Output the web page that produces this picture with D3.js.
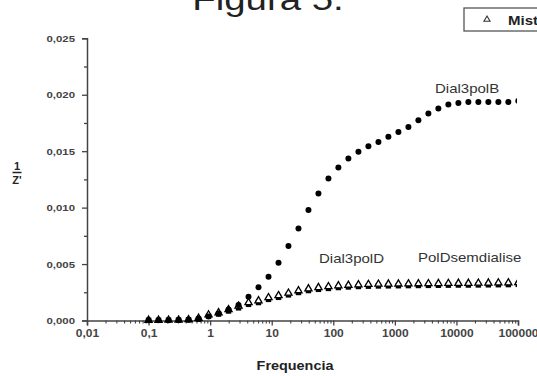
<!DOCTYPE html>
<html>
<head>
<meta charset="utf-8">
<script src="https://cdn.jsdelivr.net/npm/d3@7"></script>
<style>
  html, body { margin: 0; padding: 0; background: #fff; }
  svg { display: block; font-family: "Liberation Sans", Arial, sans-serif; }
</style>
</head>
<body>
<div id="chart"></div>
<script>
// frequency sweep (Hz)
const freq = [0.1, 0.145, 0.211, 0.307, 0.446, 0.648, 0.942, 1.37, 1.99, 2.89,
  4.2, 6.1, 8.87, 12.9, 18.7, 27.2, 39.5, 57.4, 83.4, 121,
  176, 256, 372, 541, 785, 1142, 1660, 2410, 3505, 5093,
  7400, 10760, 15630, 22710, 33000, 47970, 69680, 101000];

// 1/Z' values
const dial3polB = [0.00002, 0.00002, 0.00003, 0.00004, 0.00006, 0.00015, 0.00035, 0.00062, 0.00097, 0.00137,
  0.00211, 0.00294, 0.00388, 0.00512, 0.00659, 0.00816, 0.00978, 0.01126, 0.01258, 0.01356,
  0.01435, 0.01494, 0.01544, 0.01582, 0.01627, 0.01671, 0.01715, 0.01774, 0.01834, 0.01878,
  0.01913, 0.01927, 0.01936, 0.01936, 0.01936, 0.01936, 0.01936, 0.01945];

const dial3polD = [0.00002, 0.00002, 0.00003, 0.00004, 0.00006, 0.00012, 0.00038, 0.00057, 0.00084, 0.00112,
  0.00143, 0.00159, 0.00187, 0.00205, 0.00227, 0.00248, 0.00265, 0.00276, 0.00284, 0.00292,
  0.00297, 0.00301, 0.00304, 0.00306, 0.00307, 0.00308, 0.00309, 0.0031, 0.00311, 0.00312,
  0.00313, 0.00314, 0.00314, 0.00315, 0.00316, 0.00317, 0.00318, 0.0032];

const polDsemdialise = [0.00002, 0.00002, 0.00003, 0.00004, 0.00008, 0.0002, 0.0005, 0.00069, 0.00096, 0.00128,
  0.00159, 0.00175, 0.00203, 0.00221, 0.00243, 0.00264, 0.00281, 0.00292, 0.003, 0.00308,
  0.00313, 0.00317, 0.0032, 0.00322, 0.00323, 0.00324, 0.00325, 0.00326, 0.00327, 0.00328,
  0.00329, 0.0033, 0.0033, 0.00331, 0.00332, 0.00333, 0.00334, 0.00336];

const xTicks = [0.01, 0.1, 1, 10, 100, 1000, 10000, 100000];
const xTickLabels = ['0,01', '0,1', '1', '10', '100', '1000', '10000', '100000'];
const yTicks = [0, 0.005, 0.010, 0.015, 0.020, 0.025];
const yTickLabels = ['0,000', '0,005', '0,010', '0,015', '0,020', '0,025'];

const width = 537, height = 376;
const SX = 1.2; // the picture is a bit wider than tall, text looks stretched

const svg = d3.select('#chart').append('svg')
  .attr('width', width)
  .attr('height', height);

const x = d3.scaleLog().domain([0.01, 100000]).range([87, 518]);
const y = d3.scaleLinear().domain([0, 0.025]).range([320.5, 38.3]);

// title (cut by the top edge)
svg.append('text')
  .attr('transform', `translate(268,10) scale(${SX},1)`)
  .attr('text-anchor', 'middle')
  .attr('font-size', 32)
  .attr('fill', '#222')
  .text('Figura 5.');

// legend box, clipped at the right
const lg = svg.append('g');
lg.append('rect')
  .attr('x', 464).attr('y', 8)
  .attr('width', 100).attr('height', 23)
  .attr('fill', '#fff')
  .attr('stroke', '#555')
  .attr('stroke-width', 1.3);
lg.append('path')
  .attr('d', d3.symbol(d3.symbolTriangle, 16)())
  .attr('transform', 'translate(487,19.5)')
  .attr('fill', '#fff')
  .attr('stroke', '#333')
  .attr('stroke-width', 1.1);
lg.append('text')
  .attr('transform', `translate(508,24.5) scale(${SX},1)`)
  .attr('font-size', 12.5)
  .attr('font-weight', 'bold')
  .attr('fill', '#222')
  .text('Mistura');

// y axis: major + minor ticks
const yAxis = svg.append('g')
  .attr('transform', 'translate(87,0)')
  .call(d3.axisLeft(y).tickValues(yTicks).tickSize(5)
    .tickFormat((d, i) => yTickLabels[i]));
yAxis.select('.domain').attr('stroke', '#444').attr('stroke-width', 1.5);
yAxis.selectAll('.tick line').attr('stroke', '#444').attr('stroke-width', 1.3);
yAxis.selectAll('.tick text')
  .attr('x', null)
  .attr('transform', `translate(-12,0) scale(${SX},1)`)
  .attr('font-size', 9.5)
  .attr('font-weight', 'bold')
  .attr('fill', '#444')
  .attr('font-family', '"Liberation Sans", Arial, sans-serif');

svg.append('g')
  .attr('transform', 'translate(87,0)')
  .call(d3.axisLeft(y).tickValues([0.0025, 0.0075, 0.0125, 0.0175, 0.0225]).tickSize(3).tickFormat(''))
  .call(g => g.select('.domain').remove())
  .selectAll('.tick line').attr('stroke', '#444').attr('stroke-width', 1.3);

// x axis: decades + minor ticks
const xAxis = svg.append('g')
  .attr('transform', `translate(0,${y(0)})`)
  .call(d3.axisBottom(x).tickValues(xTicks).tickSize(5).tickPadding(4)
    .tickFormat((d, i) => xTickLabels[i]));
xAxis.select('.domain').attr('stroke', '#444').attr('stroke-width', 1.5);
xAxis.selectAll('.tick line').attr('stroke', '#444').attr('stroke-width', 1.3);
xAxis.selectAll('.tick text')
  .attr('transform', `scale(${SX},1)`)
  .attr('font-size', 10)
  .attr('font-weight', 'bold')
  .attr('fill', '#444')
  .attr('font-family', '"Liberation Sans", Arial, sans-serif');

const minorX = [];
xTicks.slice(0, -1).forEach(d => {
  for (let m = 2; m <= 9; m++) minorX.push(d * m);
});
svg.append('g')
  .attr('transform', `translate(0,${y(0)})`)
  .call(d3.axisBottom(x).tickValues(minorX).tickSize(3).tickFormat(''))
  .call(g => g.select('.domain').remove())
  .selectAll('.tick line').attr('stroke', '#444').attr('stroke-width', 1.1);

// axis titles
svg.append('text')
  .attr('transform', `translate(295,370) scale(${SX},1)`)
  .attr('text-anchor', 'middle')
  .attr('font-size', 12)
  .attr('font-weight', 'bold')
  .attr('fill', '#222')
  .text('Frequencia');

const yl = svg.append('g').attr('transform', 'translate(17,0)');
yl.append('text')
  .attr('y', 169.5)
  .attr('text-anchor', 'middle')
  .attr('font-size', 11)
  .attr('font-weight', 'bold')
  .attr('fill', '#222')
  .text('1');
yl.append('line')
  .attr('x1', -4.5).attr('x2', 4.5)
  .attr('y1', 172.5).attr('y2', 172.5)
  .attr('stroke', '#222').attr('stroke-width', 1.5);
yl.append('text')
  .attr('y', 183.5)
  .attr('text-anchor', 'middle')
  .attr('font-size', 11)
  .attr('font-weight', 'bold')
  .attr('fill', '#222')
  .text("Z'");

// series, cut at the end of the x axis
svg.append('defs').append('clipPath').attr('id', 'plot-clip')
  .append('rect')
  .attr('x', 80).attr('y', 30)
  .attr('width', 437).attr('height', 300);

const plot = svg.append('g').attr('clip-path', 'url(#plot-clip)');

plot.append('g').selectAll('rect')
  .data(dial3polD)
  .join('rect')
    .attr('x', (d, i) => x(freq[i]) - 2.7)
    .attr('y', d => y(d) - 2.7)
    .attr('width', 5.4)
    .attr('height', 5.4)
    .attr('fill', '#000');

plot.append('g').selectAll('path')
  .data(polDsemdialise)
  .join('path')
    .attr('d', d3.symbol(d3.symbolTriangle, 22)())
    .attr('transform', (d, i) => `translate(${x(freq[i])},${y(d)})`)
    .attr('fill', '#fff')
    .attr('stroke', '#000')
    .attr('stroke-width', 1.3);

plot.append('g').selectAll('circle')
  .data(dial3polB)
  .join('circle')
    .attr('cx', (d, i) => x(freq[i]))
    .attr('cy', d => y(d))
    .attr('r', 3)
    .attr('fill', '#000');

// series labels
const notes = [
  { text: 'Dial3polB', x: 435, y: 93 },
  { text: 'Dial3polD', x: 319, y: 263 },
  { text: 'PolDsemdialise', x: 418, y: 262 }
];
svg.append('g').selectAll('text')
  .data(notes)
  .join('text')
    .attr('transform', d => `translate(${d.x},${d.y}) scale(${SX},1)`)
    .attr('font-size', 12.5)
    .attr('fill', '#333')
    .text(d => d.text);
</script>
</body>
</html>
